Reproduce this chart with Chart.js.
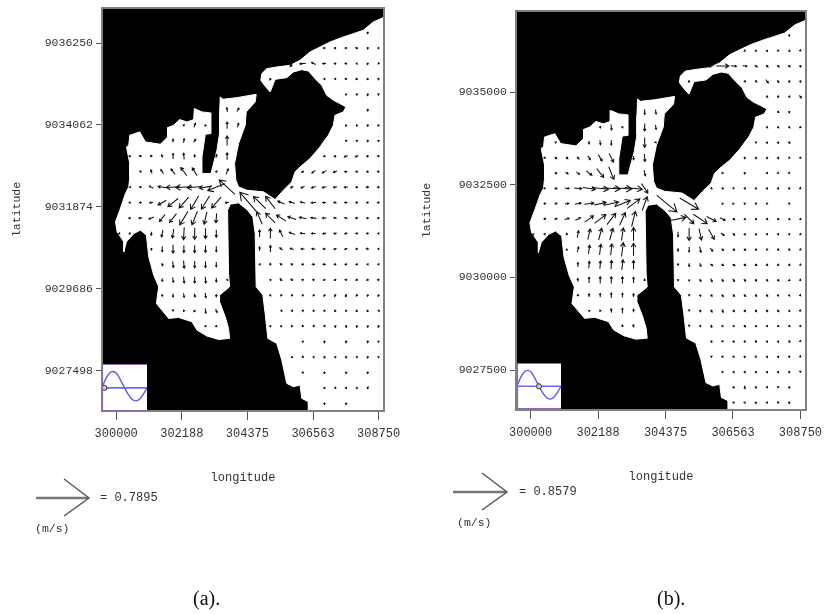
<!DOCTYPE html>
<html><head><meta charset="utf-8">
<script src="https://cdn.jsdelivr.net/npm/chart.js@4"></script>
<style>
html,body{margin:0;padding:0;background:#fff;width:825px;height:614px;overflow:hidden}
#page{position:relative;width:825px;height:614px;filter:blur(0.6px)}
canvas{position:absolute}
.t{position:absolute;font:12px "Liberation Mono",monospace;color:#333;white-space:pre}
.c{position:absolute;font:20px "Liberation Serif",serif;color:#111;white-space:pre}
svg{position:absolute;left:0;top:0}
</style></head><body>
<div id="page">
<canvas id="ca" style="left:0;top:0"></canvas>
<canvas id="cb" style="left:410px;top:0"></canvas>
<canvas id="ia" style="left:102px;top:364px"></canvas>
<canvas id="ib" style="left:517px;top:363px"></canvas>
<svg width="825" height="614" fill="none">
<path d="M36 498H88" stroke="#777" stroke-width="2.4"/><path d="M64 479L89 498L64 516" stroke="#555" stroke-width="1.4"/>
<path d="M453 492H506" stroke="#777" stroke-width="2.4"/><path d="M482 473L507 492L482 510" stroke="#555" stroke-width="1.4"/>
</svg>
<div class="t" style="left:100px;top:491px">= 0.7895</div>
<div class="t" style="left:35px;top:522px;font-size:11.5px">(m/s)</div>
<div class="t" style="left:519px;top:485px">= 0.8579</div>
<div class="t" style="left:457px;top:516px;font-size:11.5px">(m/s)</div>
<div class="c" style="left:193px;top:587px">(a).</div>
<div class="c" style="left:657px;top:587px">(b).</div>
</div>
<script>
const xTickValues=[300000,302188,304375,306563,308750];
const yTicksA=[9036250,9034062,9031874,9029686,9027498];
const yTicksB=[9035000,9032500,9030000,9027500];
const lonRange=[299527,308930];
const latRange=[9026425,9037185];
const landLon=[299527,308930,308930,299527,299527];
const landLat=[9037185,9037185,9026425,9026425,9037185];
const coastLon=[308949,308572,308239,307906,307573,307130,306797,306464,306132,305799,305355,305023,304856,304823,304967,305134,305222,305300,305688,305910,306187,306409,306631,306853,307019,307241,307463,307662,307573,307296,307241,307074,306908,306797,306464,306132,305965,305854,305577,305300,304912,304357,304080,303991,303947,304080,304302,304335,304635,304668,304025,303559,303470,303448,303448,303359,303160,302860,302860,302971,303160,303160,302860,302605,302583,302361,302117,301918,301718,301718,301474,300975,300786,300454,300420,300343,300454,300454,300420,300309,300121,299977,300032,300254,300254,300343,300587,300809,301008,301086,301252,301418,301341,301751,302084,302527,302694,303027,303415,303781,303747,303636,303448,303448,303781,303747,303714,303803,304080,304357,304557,304635,304668,304890,304967,305056,305355,305522,305688,305910,306132,306187,306409,306409,308949,308949];
const coastLat=[9036944,9036811,9036589,9036500,9036411,9036277,9036144,9036011,9035788,9035655,9035610,9035566,9035433,9035255,9035095,9034943,9035121,9035281,9035326,9035477,9035539,9035504,9035299,9035121,9034854,9034721,9034632,9034543,9034410,9034321,9034054,9033787,9033609,9033476,9033165,9032942,9032809,9032542,9032320,9032071,9032276,9032320,9032409,9032587,9033031,9033565,9034054,9034410,9034677,9034881,9034792,9034748,9034810,9034365,9033832,9033387,9032765,9032765,9033209,9033814,9033832,9034383,9034410,9034499,9034205,9034143,9034205,9034054,9033992,9033743,9033547,9033609,9033876,9033787,9033521,9033476,9033031,9032676,9032409,9032231,9031787,9031475,9031209,9030942,9030675,9030942,9031164,9031253,9031119,9030541,9030052,9029741,9029296,9028896,9028923,9028807,9028585,9028425,9028336,9028363,9028629,9028941,9029341,9029519,9029741,9030097,9031787,9031947,9031982,9031804,9031609,9031164,9029741,9029519,9029030,9028363,9028229,9027785,9027162,9027073,9027118,9026762,9026673,9026406,9026406,9036944];
const gridLon=[300093,300454,300814,301175,301535,301896,302257,302617,302978,303338,303699,304060,304420,304781,305141,305502,305863,306223,306584,306944,307305,307666,308026,308387,308747];
const gridLat=[9036527,9036115,9035702,9035290,9034877,9034465,9034052,9033640,9033227,9032815,9032402,9031990,9031577,9031165,9030752,9030340,9029927,9029515,9029102,9028690,9028277,9027865,9027452,9027040,9026627];
// each row: row index, then triples of column, east cm/s, north cm/s
const arrowsA=[
[0,23,-1,-3],
[1,19,-3,0,20,-3,0,21,-3,0,22,-3,1,23,0,-3,24,-2,0],
[2,16,-5,-9,17,-9,-1,18,-6,3,19,-5,0,20,-3,0,21,-3,0,22,-2,0,23,-1,-3,24,-1,-1],
[3,14,-2,-3,19,-2,0,20,-2,0,21,-3,0,22,-3,-1,23,-2,-2,24,0,-2],
[4,21,-1,-2,22,0,-2,23,-1,-3,24,0,-2],
[5,10,-1,6,11,3,5,23,0,-3],
[6,6,-2,1,7,2,6,8,-1,-2,10,0,10,11,2,6,21,-1,-2,22,-1,-2,23,0,-3,24,-2,-2],
[7,5,0,5,6,1,6,7,3,4,10,0,14,21,-1,-2,22,0,-2,23,0,-3,24,0,-2],
[8,1,-2,0,2,-3,2,3,-2,3,4,-2,4,5,0,8,6,-1,9,7,0,4,9,1,5,10,0,10,19,-2,-1,20,-3,-1,21,-5,-2,22,-4,-2,23,-3,0,24,-3,1],
[9,2,-1,3,3,-2,5,4,-4,6,5,-6,8,6,-9,12,7,-7,11,9,2,2,10,3,8,17,-3,-2,18,-5,-4,19,-6,-3,20,-5,-2,21,-4,0,22,-3,0,23,-3,0,24,-3,0],
[10,1,-1,0,2,-3,1,3,-6,3,4,-12,2,5,-20,-1,6,-24,-1,7,-22,-2,8,-18,-3,9,-25,-10,10,-23,21,16,-4,-2,17,-5,-2,18,-6,-2,19,-6,-1,20,-5,-1,21,-5,-1,22,-3,0,23,-4,0,24,-3,0],
[11,1,-2,0,2,-3,0,3,-5,-1,4,-12,-7,5,-15,-12,6,-14,-16,7,-12,-20,8,-12,-19,9,-14,-16,10,-5,-1,12,-26,30,13,-18,18,14,-14,18,15,-10,4,16,-8,3,17,-7,2,18,-7,-1,19,-5,0,20,-4,1,21,-4,0,22,-3,1,23,-3,0,24,-3,0],
[12,1,-3,-1,2,-5,-1,3,-7,-3,4,-8,-10,5,-10,-13,6,-12,-20,7,-8,-20,8,-4,-18,9,-1,-14,13,-8,18,14,-14,14,15,-14,9,16,-12,4,17,-10,2,18,-8,1,19,-6,0,20,-4,1,21,-4,1,22,-4,0,23,-3,0,24,-3,0],
[13,0,-1,0,1,-2,-1,3,-1,-5,4,-2,-10,5,-2,-13,6,-1,-18,7,0,-17,8,0,-15,9,0,-11,13,0,10,14,0,15,15,-5,10,16,-8,3,17,-7,1,18,-6,0,19,-5,-1,20,-4,-1,21,-4,-1,22,-3,0,23,-3,0,24,-2,0],
[14,3,0,-3,4,0,-8,5,0,-12,6,0,-11,7,0,-11,8,0,-10,9,0,-8,13,0,6,14,0,10,15,-4,3,16,-5,2,17,-5,0,18,-5,1,19,-4,0,20,-4,-1,21,-4,-1,22,-3,0,23,-4,1,24,-2,0],
[15,4,1,-4,5,1,-9,6,1,-11,7,0,-10,8,0,-9,9,0,-7,13,-1,0,14,-1,3,15,-3,2,16,-3,1,17,-3,0,18,-4,0,19,-4,0,20,-3,0,21,-3,0,22,-3,0,23,-2,0,24,-2,0],
[16,4,0,-4,5,1,-7,6,1,-9,7,0,-9,8,1,-9,9,0,-6,10,-1,0,14,-1,1,15,-3,3,16,-3,2,17,-3,0,18,-3,0,19,-3,-1,20,-3,-1,21,-3,0,22,-3,-1,23,-3,-1,24,-3,0],
[17,4,0,-3,5,0,-5,6,1,-6,7,1,-5,8,1,-7,9,0,-4,14,-2,0,15,-1,-2,16,-1,-2,17,0,-2,18,-1,-2,19,-1,-3,20,-2,-3,21,-2,-4,22,-2,-2,23,-1,-3,24,-1,-3],
[18,5,0,-1,6,-1,-2,7,-2,-3,8,1,-7,9,2,-5,15,-1,0,16,-2,0,17,0,-2,18,-1,-2,19,-1,-2,20,-2,-2,21,-1,-2,22,-2,-2,23,-2,-2,24,-1,0],
[19,8,-2,0,9,-2,-1,14,-2,0,15,-2,1,16,-1,2,17,-1,3,18,1,3,19,1,3,20,1,-3,21,1,-3,22,-1,-3,23,0,-3,24,-1,-3],
[20,17,0,-2,19,0,-3,21,0,-3,23,0,-3,24,0,-2],
[21,16,0,2,17,0,3,18,0,-2,19,1,-3,20,0,-2,21,0,-3,22,0,-2,23,0,-3,24,0,-2],
[22,17,0,-2,19,0,-3,21,0,-3,23,0,-3],
[23,19,1,2,20,0,2,21,1,2,22,0,2,23,1,3],
[24,19,0,-3,21,0,-3]
];
const arrowsB=[
[0,23,1,-2],
[1,19,2,-1,20,2,-1,21,1,-3,22,0,2,23,2,-2,24,1,-1],
[2,16,6,5,17,20,0,18,9,-1,19,7,-1,20,4,-3,21,3,-3,22,3,-3,23,2,-3,24,1,-3],
[3,14,-1,-3,19,2,-2,20,3,-2,21,4,-5,22,2,-4,23,1,-3,24,1,-3],
[4,21,2,-2,22,2,-2,23,2,-2,24,3,-4],
[5,10,0,-8,11,1,-7,22,2,-2,23,1,-3],
[6,6,1,-2,7,1,-9,8,1,-2,10,0,-12,11,1,-7,21,2,-2,22,2,-2,23,2,-2,24,2,-1],
[7,2,0,-2,5,0,-5,6,1,-7,7,0,-8,10,0,-16,11,1,-1,20,0,-2,21,1,-3,22,1,-3,23,2,-3],
[8,1,2,-2,2,3,-3,3,3,-3,4,3,-4,5,4,-6,6,6,-10,7,7,-14,9,0,-6,10,1,-12,19,0,-3,20,0,-3,21,0,-3,22,1,-3,23,2,-1,24,1,-2],
[9,2,3,-2,3,4,-3,4,5,-4,5,9,-7,6,11,-14,7,8,-20,10,2,-9,17,1,-2,19,0,-3,21,1,-2,22,1,-1,23,1,-1],
[10,1,2,0,2,4,-1,3,7,-1,4,12,-1,5,20,-3,6,26,-3,7,28,-2,8,30,-2,9,28,-3,10,10,-15,16,2,-1,17,3,-1,18,1,-1,19,2,-2,20,1,-2,21,1,-2,22,1,-2,23,1,-2,24,1,-1],
[11,1,3,1,2,4,1,3,6,1,4,10,2,5,15,2,6,19,4,7,23,5,8,25,10,9,20,15,10,8,22,12,32,-26,14,30,-18,17,2,0,18,1,0,19,0,-2,20,0,-2,21,0,-2,23,0,-2],
[12,1,3,2,2,4,2,3,7,2,4,8,4,5,14,10,6,18,14,7,14,18,8,9,20,9,6,24,13,25,5,14,15,-15,15,22,-15,16,15,-8,17,8,-4,18,3,-3,19,2,-2,20,2,-2,21,2,-2,22,2,-2,23,2,-2,24,2,-2],
[13,0,1,1,1,2,2,3,0,3,4,2,11,5,4,17,6,5,19,7,5,19,8,3,20,9,0,21,13,0,-8,14,0,-20,15,4,-18,16,9,-16,17,5,-4,18,3,-3,19,2,-2,20,2,-2,21,1,-2,22,1,-2,23,1,-2,24,2,-1],
[14,3,0,2,4,2,8,5,2,14,6,2,17,7,2,18,8,3,22,9,0,20,13,0,-5,14,0,-8,15,2,-9,16,4,-5,17,3,-3,18,3,-2,19,3,-2,20,2,-2,21,2,-1,22,2,-2,23,2,-2,24,2,-1],
[15,4,0,7,5,1,11,6,1,12,7,1,14,8,2,16,9,0,14,13,0,-1,14,0,-5,15,2,-5,16,4,-3,17,3,-2,18,4,-2,19,3,-2,20,3,-2,21,2,-2,22,2,-2,23,2,-2,24,2,-1],
[16,4,-1,5,5,0,9,6,0,11,7,0,11,8,0,11,9,0,9,10,-1,3,13,0,-2,14,0,-3,15,2,-4,16,2,-5,17,2,-4,18,3,-4,19,3,-3,20,2,-3,21,2,-3,22,2,-3,23,2,-1,24,1,-1],
[17,4,0,3,5,0,5,6,0,6,7,0,8,8,0,7,9,0,5,14,0,-1,15,1,-3,16,2,-3,17,2,-4,18,3,-3,19,3,-3,20,2,-3,21,2,-3,22,1,-2,23,1,-2,24,1,-1],
[18,5,-1,1,6,-1,2,7,-1,6,8,0,8,9,0,5,14,0,-1,15,1,-3,16,2,-4,17,2,-5,18,2,-3,19,2,-3,20,2,-3,21,2,-3,22,2,-3,23,2,-2,24,1,-1],
[19,8,0,3,9,-1,4,14,0,-1,15,1,-2,16,1,-4,17,1,-2,18,1,-2,19,2,-3,20,2,-2,21,1,-2,22,2,-2,23,2,-2,24,1,-2],
[20,16,1,-3,17,1,-2,18,1,-3,19,1,-3,20,2,-3,21,1,-3,22,1,-3,23,2,-3,24,1,-1],
[21,16,0,-2,17,1,-2,18,1,-2,19,0,-3,20,1,-2,21,1,-3,22,1,-3,23,1,-2,24,1,-1],
[22,17,1,-2,18,1,-3,19,1,-3,20,1,-3,21,1,-3,22,1,-3,23,1,-3,24,0,-1],
[23,18,1,-3,19,1,-5,20,1,-3,21,1,-2,22,0,-2,23,1,-3],
[24,18,1,-2,19,1,-2,20,0,-3,21,1,-2,22,0,-2,23,0,-3]
];
const tideHours=[0,1,2,3,4,5,6,7,8,9,10,11,12];
const tideLevel=[0,0.55,0.9,1,0.85,0.45,0,-0.4,-0.7,-0.8,-0.7,-0.4,0];
const refSpeedA=78.95, refSpeedB=85.79;
const MONO='"Liberation Mono",monospace';

function zipXY(xs,ys){return xs.map((x,i)=>({x,y:ys[i]}));}
function expandArrows(rows){
  const out=[];
  rows.forEach(r=>{for(let i=1;i<r.length;i+=3){out.push({x:gridLon[r[i]],y:gridLat[r[0]],u:r[i+1],v:r[i+2]});}});
  return out;
}
const quiver={id:'quiver',afterDatasetsDraw(chart,_a,opts){
  const idx=chart.data.datasets.findIndex(d=>d.isQuiver);
  const meta=chart.getDatasetMeta(idx), data=chart.data.datasets[idx].data, ctx=chart.ctx, a=chart.chartArea;
  ctx.save();ctx.beginPath();ctx.rect(a.left,a.top,a.width,a.height);ctx.clip();
  ctx.strokeStyle='#111';ctx.lineWidth=1.05;ctx.lineCap='butt';
  meta.data.forEach((el,i)=>{
    const d=data[i], k=opts.pxPerSpeed, dx=d.u*k, dy=-d.v*k, L=Math.hypot(dx,dy);
    const x1=el.x-dx/2,y1=el.y-dy/2,x2=el.x+dx/2,y2=el.y+dy/2;
    const ang=Math.atan2(dy,dx),h=Math.max(1.8,L*0.34);
    ctx.beginPath();ctx.moveTo(x1,y1);ctx.lineTo(x2,y2);
    ctx.moveTo(x2-h*Math.cos(ang-0.55),y2-h*Math.sin(ang-0.55));ctx.lineTo(x2,y2);
    ctx.lineTo(x2-h*Math.cos(ang+0.55),y2-h*Math.sin(ang+0.55));ctx.stroke();
  });
  ctx.restore();
  ctx.save();ctx.strokeStyle='#808080';ctx.lineWidth=2;
  ctx.strokeRect(a.left,a.top,a.width,a.height);ctx.restore();
}};
function panel(id,w,h,o){
  const cv=document.getElementById(id);cv.width=w;cv.height=h;cv.style.width=w+'px';cv.style.height=h+'px';
  new Chart(cv,{type:'scatter',plugins:[quiver],data:{datasets:[
    {label:'land',data:zipXY(landLon,landLat),showLine:true,fill:'shape',backgroundColor:'#000',borderColor:'#000',borderWidth:1,pointRadius:0,tension:0,order:3},
    {label:'water',data:zipXY(coastLon,coastLat),showLine:true,fill:'shape',backgroundColor:'#fff',borderColor:'#fff',borderWidth:1,pointRadius:0,tension:0,order:2},
    {label:'velocity',isQuiver:true,data:expandArrows(o.rows),showLine:false,pointRadius:0,order:1}
  ]},options:{responsive:false,animation:false,
    layout:{autoPadding:false,padding:o.pad},
    plugins:{legend:{display:false},tooltip:{enabled:false},quiver:{pxPerSpeed:o.k}},
    scales:{
      x:{type:'linear',min:lonRange[0],max:lonRange[1],
        afterBuildTicks:s=>{s.ticks=xTickValues.map(v=>({value:v}));},
        afterFit:s=>{s.height=o.xH;s.paddingLeft=0;s.paddingRight=0;},
        grid:{drawOnChartArea:false,drawTicks:true,tickLength:9,color:'#555',lineWidth:1},border:{display:false},
        ticks:{autoSkip:false,maxRotation:0,padding:7,color:'#333',font:{family:MONO,size:12},callback:v=>String(v)},
        title:{display:true,text:'longitude',color:'#333',font:{family:MONO,size:12},padding:{top:0,bottom:o.xTitlePad}}},
      y:{type:'linear',min:latRange[0],max:latRange[1],
        afterBuildTicks:s=>{s.ticks=o.yTicks.map(v=>({value:v}));},
        afterFit:s=>{s.width=o.yW;s.paddingTop=0;s.paddingBottom=0;},
        grid:{drawOnChartArea:false,drawTicks:true,tickLength:6,color:'#555',lineWidth:1},border:{display:false},
        ticks:{autoSkip:false,padding:3,color:'#333',font:{family:MONO,size:11.5},callback:v=>String(v)},
        title:{display:true,text:'latitude',color:'#333',font:{family:MONO,size:11.5},padding:{top:10,bottom:0}}}
    }}});
}
function inset(id,w,h,mark){
  const cv=document.getElementById(id);cv.width=w;cv.height=h;cv.style.width=w+'px';cv.style.height=h+'px';
  new Chart(cv,{type:'scatter',plugins:[{id:'box',beforeDraw(c){const x=c.ctx;x.save();x.fillStyle='#fff';x.fillRect(0,0,w,h);x.restore();},
    afterDraw(c){const x=c.ctx;x.save();x.strokeStyle='#8a6ab0';x.lineWidth=1.2;x.beginPath();x.moveTo(w,0.5);x.lineTo(0.5,0.5);x.lineTo(0.5,h-0.5);x.lineTo(w,h-0.5);x.stroke();x.restore();}}],
    data:{datasets:[
    {data:[{x:mark,y:0}],pointRadius:2.6,pointBackgroundColor:'#ccc',pointBorderColor:'#333',pointBorderWidth:1,order:1},
    {data:zipXY(tideHours,tideLevel),showLine:true,tension:0.35,borderColor:'#5a5ae8',borderWidth:1.4,pointRadius:0,order:2},
    {data:[{x:0,y:0},{x:12,y:0}],showLine:true,borderColor:'#6a6af0',borderWidth:1.6,pointRadius:0,order:3}
  ]},options:{responsive:false,animation:false,layout:{autoPadding:false,padding:0},
    plugins:{legend:{display:false},tooltip:{enabled:false}},
    scales:{x:{display:false,min:0,max:12},y:{display:false,min:-1.42,max:1.46}}}});
}
panel('ca',410,500,{rows:arrowsA,k:54/refSpeedA,yTicks:yTicksA,yW:102,xH:89,xTitlePad:15,pad:{left:0,top:8,right:26,bottom:0}});
panel('cb',415,500,{rows:arrowsB,k:54/refSpeedB,yTicks:yTicksB,yW:106,xH:90,xTitlePad:16,pad:{left:0,top:11,right:19,bottom:0}});
inset('ia',45,47,0.6);
inset('ib',44,46,6);
</script>
</body></html>
